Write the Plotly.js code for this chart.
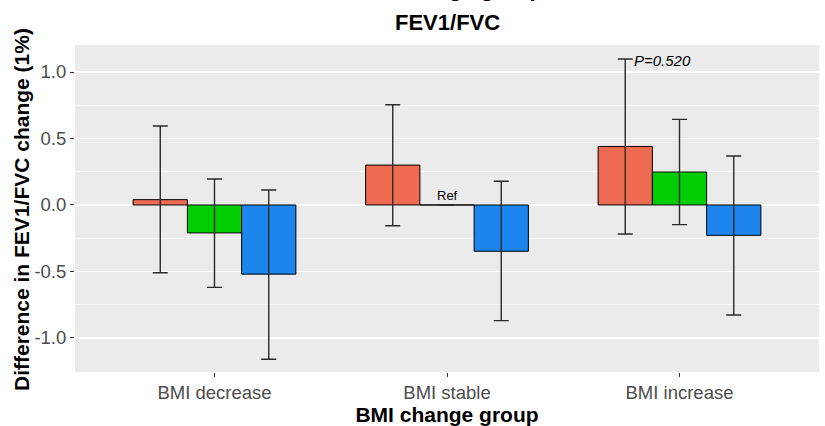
<!DOCTYPE html>
<html>
<head>
<meta charset="utf-8">
<script src="https://cdn.plot.ly/plotly-3.0.1.min.js"></script>
<style>html,body{margin:0;padding:0;background:#fff;}#chart{width:825px;height:426px;}</style>
</head>
<body>
<div id="chart"></div>
<script>
// Data
const groups = ["BMI decrease", "BMI stable", "BMI increase"];
const seriesNames = ["Series A", "Series B", "Series C"];
const estA = [0.04, 0.30, 0.44];
const lowA = [-0.51, -0.156, -0.218];
const highA = [0.594, 0.754, 1.098];
const estB = [-0.21, 0.0, 0.248];
const lowB = [-0.62, 0.0, -0.148];
const highB = [0.195, 0.0, 0.644];
const estC = [-0.52, -0.348, -0.228];
const lowC = [-1.16, -0.87, -0.827];
const highC = [0.113, 0.178, 0.368];
const colors = ["#EE6A50", "#00CD00", "#1C86EE"];
const yTickVals = [-1.0, -0.5, 0.0, 0.5, 1.0];
const yTickText = ["-1.0", "-0.5", "0.0", "0.5", "1.0"];
const refLabel = "Ref";
const pLabel = "P=0.520";

const ests = [estA, estB, estC];
const lows = [lowA, lowB, lowC];
const highs = [highA, highB, highC];

const FONT = "Liberation Sans, Arial, Helvetica, sans-serif";

const traces = ests.map((est, i) => ({
  type: "bar",
  name: seriesNames[i],
  x: groups,
  y: est,
  marker: { color: colors[i], line: { color: "#000", width: 1 } },
  error_y: {
    type: "data",
    symmetric: false,
    array: highs[i].map((h, k) => h - est[k]),
    arrayminus: est.map((e, k) => e - lows[i][k]),
    color: "#2a2a2a",
    thickness: 1.4,
    width: 7.5,
    visible: true
  },
  showlegend: false,
  hoverinfo: "none"
}));

const layout = {
  width: 825,
  height: 426,
  margin: { l: 75, r: 6, t: 45, b: 54 },
  paper_bgcolor: "#fff",
  plot_bgcolor: "#EBEBEB",
  barmode: "group",
  bargap: 0.3,
  bargroupgap: 0,
  font: { family: FONT, color: "#000" },
  xaxis: {
    type: "category",
    range: [-0.6, 2.6],
    showgrid: false,
    zeroline: false,
    ticks: "outside",
    ticklen: 4,
    tickcolor: "#333",
    tickwidth: 1,
    tickfont: { family: FONT, size: 18.5, color: "#4D4D4D" },
    title: { text: "BMI change group", font: { family: FONT, size: 21, color: "#000", weight: "bold" }, standoff: 2 }
  },
  yaxis: {
    range: [-1.256, 1.203],
    tickmode: "array",
    tickvals: yTickVals,
    ticktext: yTickText,
    showgrid: true,
    gridcolor: "#FFFFFF",
    gridwidth: 1.3,
    zeroline: false,
    ticks: "outside",
    ticklen: 4,
    tickcolor: "#333",
    tickwidth: 1,
    tickfont: { family: FONT, size: 18.5, color: "#4D4D4D" },
    minor: { dtick: 0.25, tick0: 0, showgrid: true, gridcolor: "#FFFFFF", gridwidth: 0.6, ticks: "" }
  },
  annotations: [
    {
      xref: "paper", yref: "paper", x: 0, y: 0.5, xanchor: "center", yanchor: "middle",
      xshift: -53.5, yshift: -1, textangle: -90, showarrow: false,
      text: "Difference in FEV1/FVC change (1%)",
      font: { family: FONT, size: 21, color: "#000", weight: "bold" }
    },
    {
      xref: "paper", yref: "paper", x: 0.5, y: 1, xanchor: "center", yanchor: "bottom",
      yshift: 8, showarrow: false,
      text: "FEV1/FVC", font: { family: FONT, size: 22, color: "#000", weight: "bold" }
    },
    {
      xref: "paper", yref: "paper", x: 0.5, y: 1, xanchor: "center", yanchor: "bottom",
      yshift: 42, showarrow: false,
      text: "BMI change group", font: { family: FONT, size: 22, color: "#000", weight: "bold" }
    },
    {
      x: groups[1], y: estB[1], xref: "x", yref: "y", xanchor: "center", yanchor: "bottom",
      showarrow: false, text: refLabel, font: { family: FONT, size: 13, color: "#000" }
    },
    {
      x: groups[2], y: highA[2], xref: "x", yref: "y", xanchor: "left", yanchor: "middle",
      xshift: -48, yshift: -2, showarrow: false, text: "<i>" + pLabel + "</i>",
      font: { family: FONT, size: 15, color: "#000" }
    }
  ]
};

Plotly.newPlot("chart", traces, layout, { displayModeBar: false, staticPlot: true });
</script>
</body>
</html>
